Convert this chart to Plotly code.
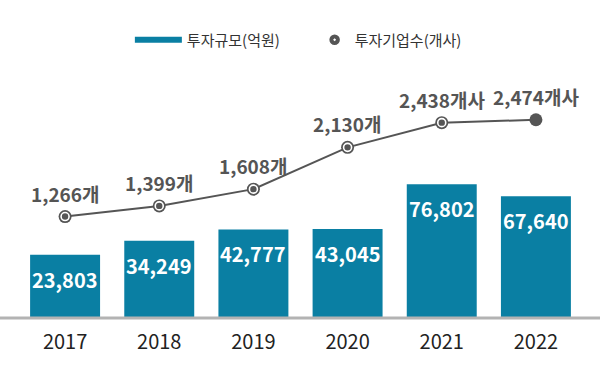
import plotly.graph_objects as go

years = ["2017", "2018", "2019", "2020", "2021", "2022"]
invest_amount = [23803, 34249, 42777, 43045, 76802, 67640]   # 투자규모(억원)
invest_firms = [1266, 1399, 1608, 2130, 2438, 2474]          # 투자기업수(개사)
amount_labels = ["23,803", "34,249", "42,777", "43,045", "76,802", "67,640"]
firm_labels = ["1,266개", "1,399개", "1,608개", "2,130개", "2,438개사", "2,474개사"]
series_names = ["투자규모(억원)", "투자기업수(개사)"]

BAR_COLOR = "#0a7fa3"
LINE_COLOR = "#555555"
FONT = "Noto Sans CJK KR"
AXIS_FLOOR = -23700

xpos = list(range(len(years)))

fig = go.Figure()

fig.add_trace(go.Bar(
    x=xpos, y=[v - AXIS_FLOOR for v in invest_amount], base=[AXIS_FLOOR] * len(years),
    width=0.743,
    marker=dict(color=BAR_COLOR, line=dict(width=0)),
    showlegend=False, hoverinfo="skip",
))

fig.add_trace(go.Scatter(
    x=xpos, y=invest_firms, yaxis="y2", mode="lines+markers",
    line=dict(color=LINE_COLOR, width=2),
    marker=dict(size=13, color=LINE_COLOR),
    showlegend=False,
))
fig.add_trace(go.Scatter(
    x=xpos[:-1], y=invest_firms[:-1], yaxis="y2", mode="markers",
    marker=dict(size=8, color=LINE_COLOR, line=dict(color="white", width=1.6)),
    showlegend=False, hoverinfo="skip",
))

# legend entries
fig.add_trace(go.Scatter(
    x=[None], y=[None], mode="lines", name=series_names[0], legend="legend",
    line=dict(color=BAR_COLOR, width=6),
))
fig.add_trace(go.Scatter(
    x=[None], y=[None], yaxis="y2", mode="markers", name=series_names[1], legend="legend2",
    marker=dict(size=12, color=LINE_COLOR, symbol="circle-dot",
                line=dict(color="white", width=1.5)),
))

annotations = []
for x, v, lab in zip(xpos, invest_amount, amount_labels):
    annotations.append(dict(
        x=x, y=v, xref="x", yref="y", text=f"<b>{lab}</b>", showarrow=False,
        yanchor="top", yshift=-8,
        font=dict(family=FONT, size=20, color="white"),
    ))
for x, v, lab in zip(xpos, invest_firms, firm_labels):
    annotations.append(dict(
        x=x, y=v, xref="x", yref="y2", text=f"<b>{lab}</b>", showarrow=False,
        yanchor="bottom", yshift=8,
        font=dict(family=FONT, size=19, color=LINE_COLOR),
    ))

legend_common = dict(orientation="h", yanchor="middle", y=1.0775, xanchor="left",
                     font=dict(family=FONT, size=15, color="#333"),
                     bgcolor="rgba(0,0,0,0)")

fig.update_layout(
    width=600, height=380,
    margin=dict(l=18, r=17, t=60, b=62),
    paper_bgcolor="white", plot_bgcolor="white",
    font=dict(family=FONT, color="#222"),
    showlegend=True,
    legend=dict(x=0.198, itemwidth=47, **legend_common),
    legend2=dict(x=0.525, itemwidth=30, **legend_common),
    xaxis=dict(range=[-0.5, len(years) - 0.5], tickmode="array", tickvals=xpos, ticktext=years,
               showgrid=False, zeroline=False, showline=False, ticks="",
               ticklabelstandoff=10,
               tickfont=dict(family=FONT, size=20, color="#222")),
    yaxis=dict(range=[AXIS_FLOOR, 170000], visible=False, showgrid=False),
    yaxis2=dict(range=[0, 3220], overlaying="y", visible=False, showgrid=False),
    annotations=annotations,
    shapes=[dict(type="line", xref="paper", yref="paper", x0=-0.04, x1=1.04,
                 y0=0, y1=0, line=dict(color="#b3b3b3", width=3), layer="above")],
)

fig.write_html("out.html", config={"displayModeBar": False},
               post_script="document.body.style.margin='0';")
